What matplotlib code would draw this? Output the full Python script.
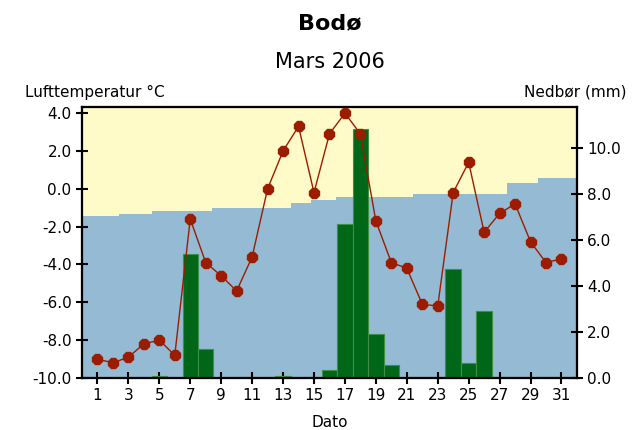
import numpy as np
import matplotlib
matplotlib.use('Agg')
import matplotlib.pyplot as plt

# Daily values, Bodø, March 2006
days = list(range(1, 32))
temp = [-9.0, -9.2, -8.9, -8.2, -8.0, -8.8, -1.6, -3.9, -4.6, -5.4,
        -3.6, 0.0, 2.0, 3.3, -0.2, 2.9, 4.0, 2.9, -1.7, -3.9,
        -4.2, -6.1, -6.2, -0.2, 1.4, -2.3, -1.3, -0.8, -2.8, -3.9, -3.7]
precip = [0.0, 0.0, 0.0, 0.0, 0.1, 0.0, 5.4, 1.25, 0.0, 0.0,
          0.0, 0.0, 0.1, 0.0, 0.0, 0.35, 6.7, 10.85, 1.9, 0.55,
          0.0, 0.0, 0.0, 4.75, 0.65, 2.9, 0.05, 0.0, 0.0, 0.0, 0.0]

# normal temperature (stepped band)
norm_x = [0, 2.4, 4.5, 8.4, 13.5, 14.8, 16.4, 21.4, 27.5, 29.5, 32]
norm_t = [-1.45, -1.35, -1.2, -1.0, -0.75, -0.6, -0.45, -0.25, 0.3, 0.55, 0.55]

xticks = list(range(1, 32, 2))
temp_ticks = [4, 2, 0, -2, -4, -6, -8, -10]
precip_ticks = [0, 2, 4, 6, 8, 10]

yellow = '#fffbc8'
blue = '#94bad4'
green = '#006618'
red = '#9c1c00'

fig = plt.figure(figsize=(6.34, 4.30), dpi=100)
ax = fig.add_axes([0.1293, 0.121, 0.7807, 0.630])
ax.set_facecolor(yellow)
ax.fill_between(norm_x, -10, norm_t, step='post', color=blue, lw=0, zorder=0)
ax.set_xlim(0, 32)
ax.set_ylim(-10, 4.32)
ax.set_yticks(temp_ticks)
ax.set_yticklabels(['%.1f' % t for t in temp_ticks])
ax.set_xticks(xticks)
ax.set_xticklabels([str(d) for d in xticks])

# precipitation bars on right axis
axp = ax.twinx()
axp.bar(days, precip, width=1.0, color=green, edgecolor='#3f8f45', linewidth=0.8)
axp.set_ylim(0, 11.8)
axp.set_yticks(precip_ticks)
axp.set_yticklabels(['%.1f' % p for p in precip_ticks])

# temperature line on top of bars
axt = ax.twinx()
axt.plot(days, temp, color=red, lw=1.0, marker='8', markersize=8,
         markerfacecolor=red, markeredgecolor=red)
axt.set_ylim(ax.get_ylim())
axt.set_yticks([])

for a in (ax, axp, axt):
    for s in a.spines.values():
        s.set_linewidth(1.5)
        s.set_color('black')
    a.set_xlim(0, 32)

ax.tick_params(axis='both', direction='inout', length=8, width=1.5, labelsize=11)
axp.tick_params(axis='y', direction='inout', length=8, width=1.5, labelsize=11)

fig.text(0.52, 0.945, 'Bodø', ha='center', va='center', fontsize=16, fontweight='bold')
fig.text(0.52, 0.855, 'Mars 2006', ha='center', va='center', fontsize=15)
fig.text(0.04, 0.785, 'Lufttemperatur °C', ha='left', va='center', fontsize=11)
fig.text(0.988, 0.785, 'Nedbør (mm)', ha='right', va='center', fontsize=11)
fig.text(0.52, 0.018, 'Dato', ha='center', va='center', fontsize=11)

fig.savefig('out.png', dpi=100)
